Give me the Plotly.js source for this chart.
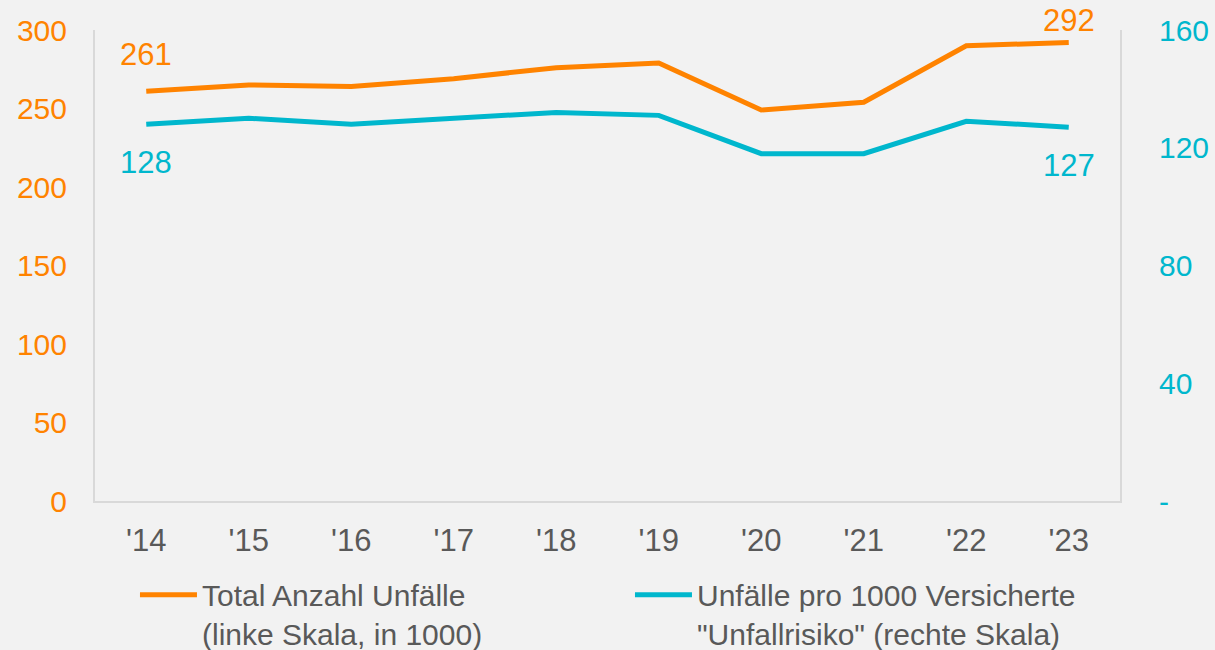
<!DOCTYPE html>
<html>
<head>
<meta charset="utf-8">
<script src="https://cdn.plot.ly/plotly-3.0.1.min.js"></script>
<style>html,body{margin:0;padding:0;background:#f2f2f2;}#chart{width:1215px;height:650px;}</style>
</head>
<body>
<div id="chart"></div>
<script>
const years = ["'14","'15","'16","'17","'18","'19","'20","'21","'22","'23"];
const totalAccidents = [261, 265, 264, 269, 276, 279, 249, 254, 290, 292];
const accidentRisk = [128, 130, 128, 130, 132, 131, 118, 118, 129, 127];
const leftTicks = [0, 50, 100, 150, 200, 250, 300];
const rightTickVals = [0, 40, 80, 120, 160];
const rightTickText = ["-", "40", "80", "120", "160"];
const seriesNames = ["Total Anzahl Unfälle<br>(linke Skala, in 1000)", "Unfälle pro 1000 Versicherte<br>\"Unfallrisiko\" (rechte Skala)"];

const orange = "#ff8300";
const cyan = "#00b7cd";
const gray = "#595959";
const font = "Liberation Sans, Arial, sans-serif";
const last = years.length - 1;

const traces = [
  {x: years, y: totalAccidents, name: seriesNames[0], type: "scatter", mode: "lines",
   line: {color: orange, width: 5}, yaxis: "y"},
  {x: years, y: accidentRisk, name: seriesNames[1], type: "scatter", mode: "lines",
   line: {color: cyan, width: 5}, yaxis: "y2"}
];

const lblFont = (c) => ({color: c, size: 31, family: font});
const annotations = [
  {x: years[0], y: totalAccidents[0], yref: "y", text: String(totalAccidents[0]), showarrow: false, yshift: 37, font: lblFont(orange)},
  {x: years[last], y: totalAccidents[last], yref: "y", text: String(totalAccidents[last]), showarrow: false, yshift: 22, font: lblFont(orange)},
  {x: years[0], y: accidentRisk[0], yref: "y2", text: String(accidentRisk[0]), showarrow: false, yshift: -38, font: lblFont(cyan)},
  {x: years[last], y: accidentRisk[last], yref: "y2", text: String(accidentRisk[last]), showarrow: false, yshift: -38, font: lblFont(cyan)}
];

const layout = {
  width: 1215, height: 650,
  paper_bgcolor: "#f2f2f2", plot_bgcolor: "#f2f2f2",
  margin: {l: 95, r: 95, t: 30, b: 149},
  font: {family: font, size: 30, color: gray},
  showlegend: true,
  xaxis: {type: "category", range: [-0.5, years.length - 0.5], showgrid: false, zeroline: false, showline: true, linecolor: "#d9d9d9", linewidth: 2,
          ticks: "", tickfont: {size: 31, color: gray}, ticklabelstandoff: 11, fixedrange: true},
  yaxis: {range: [0, 300], tickvals: leftTicks, showgrid: false, zeroline: false, showline: true, linecolor: "#d9d9d9", linewidth: 2,
          ticks: "", tickfont: {size: 30, color: orange}, ticklabelstandoff: 20},
  yaxis2: {range: [0, 160], overlaying: "y", side: "right", tickvals: rightTickVals, ticktext: rightTickText,
           showgrid: false, zeroline: false, showline: true, linecolor: "#d9d9d9", linewidth: 2,
           ticks: "", tickfont: {size: 30, color: cyan}, ticklabelstandoff: 31},
  legend: {orientation: "h", x: 0.039, xanchor: "left", yref: "container", y: 0.125, yanchor: "top",
           font: {size: 30, color: gray, family: font}, itemwidth: 57, entrywidth: 423, entrywidthmode: "pixels",
           valign: "top", bgcolor: "rgba(0,0,0,0)", tracegroupgap: 0},
  annotations: annotations
};

Plotly.newPlot("chart", traces, layout, {displayModeBar: false, staticPlot: true});
</script>
</body>
</html>
